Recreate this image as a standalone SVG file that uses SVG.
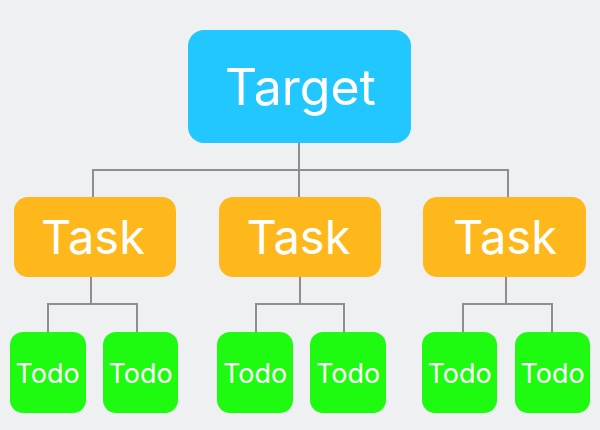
<svg xmlns="http://www.w3.org/2000/svg" width="600" height="430" viewBox="0 0 600 430">
<style>
.bg{fill:#EFF0F2}
.target{fill:#22C7FF}
.task{fill:#FFB81C}
.todo{fill:#1EFA10}
text{font-family:Inter,"Noto Sans","DejaVu Sans",sans-serif;fill:#FFFFFF;text-anchor:middle}
.t1{font-size:50px}
.t2{font-size:47px}
.t3{font-size:27px}
.conn path{fill:none;stroke:#8E8E8E;stroke-width:2}
</style>
<rect class="bg" x="0" y="0" width="600" height="430"/>
<g id="connectors" class="conn">
<path d="M299,142 V170 M93,197 V170 H508 V197 M299,170 V197"/>
<path d="M91,277 V304 M48,332 V304 H137 V332"/>
<path d="M300,277 V304 M256,332 V304 H344 V332"/>
<path d="M506,277 V304 M463,332 V304 H552 V332"/>
</g>
<g id="target"><rect class="target" x="188" y="30" width="223" height="113" rx="16"/><text class="t1" x="300.5" y="105">Target</text></g>
<g id="task1"><rect class="task" x="14" y="197" width="162" height="80" rx="14"/><text class="t2" x="93" y="254">Task</text></g>
<g id="task2"><rect class="task" x="219" y="197" width="162" height="80" rx="14"/><text class="t2" x="298.5" y="254">Task</text></g>
<g id="task3"><rect class="task" x="423" y="197" width="163" height="80" rx="14"/><text class="t2" x="505" y="254">Task</text></g>
<g id="todo1"><rect class="todo" x="10" y="332" width="76" height="81" rx="13"/><text class="t3" x="47.5" y="383">Todo</text></g>
<g id="todo2"><rect class="todo" x="103" y="332" width="75" height="81" rx="13"/><text class="t3" x="140.5" y="383">Todo</text></g>
<g id="todo3"><rect class="todo" x="217" y="332" width="76" height="81" rx="13"/><text class="t3" x="255" y="383">Todo</text></g>
<g id="todo4"><rect class="todo" x="310" y="332" width="76" height="81" rx="13"/><text class="t3" x="348" y="383">Todo</text></g>
<g id="todo5"><rect class="todo" x="422" y="332" width="75" height="81" rx="13"/><text class="t3" x="459.5" y="383">Todo</text></g>
<g id="todo6"><rect class="todo" x="515" y="332" width="75" height="81" rx="13"/><text class="t3" x="552.5" y="383">Todo</text></g>
</svg>
